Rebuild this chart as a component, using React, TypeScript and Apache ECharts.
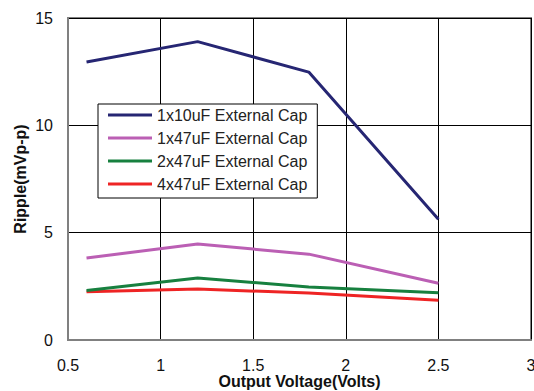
import React, { useEffect, useRef } from "react";
import * as echarts from "echarts";

const xValues = [0.6, 1.2, 1.8, 2.5];
const seriesNames = [
  "1x10uF External Cap",
  "1x47uF External Cap",
  "2x47uF External Cap",
  "4x47uF External Cap",
];
const cap1x10 = [12.95, 13.9, 12.48, 5.62];
const cap1x47 = [3.82, 4.47, 4.0, 2.64];
const cap2x47 = [2.31, 2.89, 2.47, 2.2];
const cap4x47 = [2.25, 2.37, 2.19, 1.85];
const seriesColors = ["#262673", "#bb5fb4", "#17803f", "#ee2424"];

const FONT = "'Liberation Sans', Arial, sans-serif";

export default function App() {
  const ref = useRef<HTMLDivElement>(null);
  useEffect(() => {
    if (!ref.current) return;
    const chart = echarts.init(ref.current, undefined, { renderer: "svg" });
    const allData = [cap1x10, cap1x47, cap2x47, cap4x47];
    chart.setOption({
      animation: false,
      textStyle: { fontFamily: FONT },
      grid: {
        left: 68,
        right: 3,
        top: 18,
        bottom: 51,
        containLabel: false,
        outerBoundsMode: "none",
        show: true,
        borderColor: "#808080",
        borderWidth: 2,
        backgroundColor: "#fff",
      },
      legend: {
        data: seriesNames,
        orient: "vertical",
        left: 98,
        top: 104,
        icon: "rect",
        itemWidth: 44,
        itemHeight: 3,
        itemGap: 7,
        padding: [3, 10, 6, 10],
        borderColor: "#000",
        borderWidth: 1,
        backgroundColor: "#fff",
        textStyle: { fontSize: 16, color: "#222", fontFamily: FONT, lineHeight: 16 },
      },
      xAxis: {
        type: "value",
        min: 0.5,
        max: 3,
        interval: 0.5,
        name: "Output Voltage(Volts)",
        nameLocation: "middle",
        nameGap: 33,
        nameMoveOverlap: false,
        nameTextStyle: { fontSize: 16, fontWeight: "bold", color: "#111", fontFamily: FONT, lineHeight: 16 },
        axisLine: { show: true, lineStyle: { color: "#808080", width: 2 } },
        axisTick: { show: false },
        axisLabel: { fontSize: 16, color: "#111", margin: 17, fontFamily: FONT },
        splitLine: { show: true, lineStyle: { color: "#000", width: 1 } },
      },
      yAxis: {
        type: "value",
        min: 0,
        max: 15,
        interval: 5,
        name: "Ripple(mVp-p)",
        nameLocation: "middle",
        nameRotate: 90,
        nameGap: 40,
        nameMoveOverlap: false,
        nameTextStyle: { fontSize: 16, fontWeight: "bold", color: "#111", fontFamily: FONT },
        axisLine: { show: true, lineStyle: { color: "#808080", width: 2 } },
        axisTick: { show: false },
        axisLabel: { fontSize: 16, color: "#111", margin: 15, fontFamily: FONT },
        splitLine: { show: true, lineStyle: { color: "#000", width: 1 } },
      },
      series: seriesNames.map((name, i) => ({
        name,
        type: "line",
        data: xValues.map((x, j) => [x, allData[i][j]]),
        symbol: "none",
        lineStyle: { color: seriesColors[i], width: 3 },
        itemStyle: { color: seriesColors[i] },
        z: 10 - i,
      })),
    });
    return () => chart.dispose();
  }, []);
  return (
    <div
      ref={ref}
      style={{ position: "fixed", left: 0, top: 0, width: 534, height: 391, background: "#fff" }}
    />
  );
}
